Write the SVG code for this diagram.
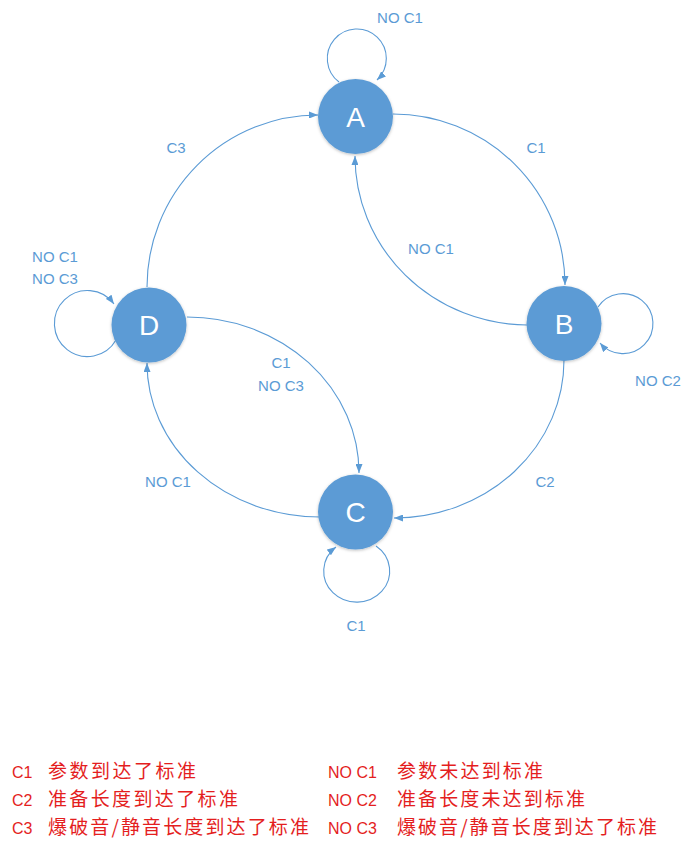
<svg xmlns="http://www.w3.org/2000/svg" width="692" height="853" viewBox="0 0 692 853">
<style>
.edge{fill:none;stroke:#5B9BD5;stroke-width:1.1}
.node{fill:#5B9BD5}
.nl{font-family:"Liberation Sans","Open Sans",sans-serif;font-size:28px;fill:#fff;text-anchor:middle}
.el{font-family:"Liberation Sans","Open Sans",sans-serif;font-size:15px;fill:#5B9BD5;text-anchor:middle}
.lg{font-family:"Liberation Sans","Noto Sans CJK SC",sans-serif;font-size:16px;fill:#E41E1E}
.cj{font-family:"Noto Sans CJK SC","Liberation Sans",sans-serif;font-size:19px;fill:#E41E1E}
</style>
<defs>
<marker id="arr" markerWidth="9" markerHeight="7" refX="9" refY="3.5" orient="auto" markerUnits="userSpaceOnUse">
<path d="M0,0 L9,3.5 L0,7 z" fill="#5B9BD5"/>
</marker>
<filter id="sh" x="-30%" y="-30%" width="160%" height="160%">
<feDropShadow dx="0" dy="1" stdDeviation="1.5" flood-color="#000" flood-opacity="0.25"/>
</filter>
</defs>
<g id="connectors">
<path class="edge" d="M393,114 A172,171 0 0 1 565,285" marker-end="url(#arr)"/>
<path class="edge" d="M527,325 A173,169 0 0 1 355,156" marker-end="url(#arr)"/>
<path class="edge" d="M147,287 A171,172 0 0 1 318,115" marker-end="url(#arr)"/>
<path class="edge" d="M564,360 A170,158 0 0 1 394,518" marker-end="url(#arr)"/>
<path class="edge" d="M187,317 A172,156 0 0 1 359,473" marker-end="url(#arr)"/>
<path class="edge" d="M320,517 A173,154 0 0 1 147,363" marker-end="url(#arr)"/>
<path class="edge" d="M339,82 A29.5,29.5 0 1 1 377,80" marker-end="url(#arr)"/>
<path class="edge" d="M598,307 A30,30 0 1 1 600,343" marker-end="url(#arr)"/>
<path class="edge" d="M376,546 A33,31 0 1 1 336,547" marker-end="url(#arr)"/>
<path class="edge" d="M116,340 A33,33 0 1 1 114,304" marker-end="url(#arr)"/>
</g>
<g id="edge-labels">
<text class="el" x="400" y="23">NO C1</text>
<text class="el" x="536" y="153">C1</text>
<text class="el" x="431" y="254">NO C1</text>
<text class="el" x="176" y="153">C3</text>
<text class="el" x="55" y="262">NO C1</text>
<text class="el" x="55" y="284">NO C3</text>
<text class="el" x="658" y="386">NO C2</text>
<text class="el" x="281" y="368">C1</text>
<text class="el" x="281" y="391">NO C3</text>
<text class="el" x="168" y="487">NO C1</text>
<text class="el" x="545" y="487">C2</text>
<text class="el" x="356" y="631">C1</text>
</g>
<g id="A"><circle class="node" cx="355.5" cy="116.5" r="37.5" filter="url(#sh)"/><text class="nl" x="355.5" y="126.5">A</text></g>
<g id="B"><circle class="node" cx="564" cy="323.5" r="37.5" filter="url(#sh)"/><text class="nl" x="564" y="333.5">B</text></g>
<g id="C"><circle class="node" cx="355.5" cy="512" r="37.5" filter="url(#sh)"/><text class="nl" x="355.5" y="522">C</text></g>
<g id="D"><circle class="node" cx="149" cy="325" r="37.5" filter="url(#sh)"/><text class="nl" x="149" y="335">D</text></g>
<g id="legend">
<text class="lg" x="12" y="778">C1</text>
<text class="cj" x="48" y="778" textLength="148" lengthAdjust="spacing">参数到达了标准</text>
<text class="lg" x="12" y="806">C2</text>
<text class="cj" x="48" y="806" textLength="190" lengthAdjust="spacing">准备长度到达了标准</text>
<text class="lg" x="12" y="834">C3</text>
<text class="cj" x="48" y="834" textLength="261" lengthAdjust="spacing">爆破音/静音长度到达了标准</text>
<text class="lg" x="328" y="778">NO C1</text>
<text class="cj" x="397" y="778" textLength="146" lengthAdjust="spacing">参数未达到标准</text>
<text class="lg" x="328" y="806">NO C2</text>
<text class="cj" x="397" y="806" textLength="188" lengthAdjust="spacing">准备长度未达到标准</text>
<text class="lg" x="328" y="834">NO C3</text>
<text class="cj" x="397" y="834" textLength="260" lengthAdjust="spacing">爆破音/静音长度到达了标准</text>
</g>
</svg>
